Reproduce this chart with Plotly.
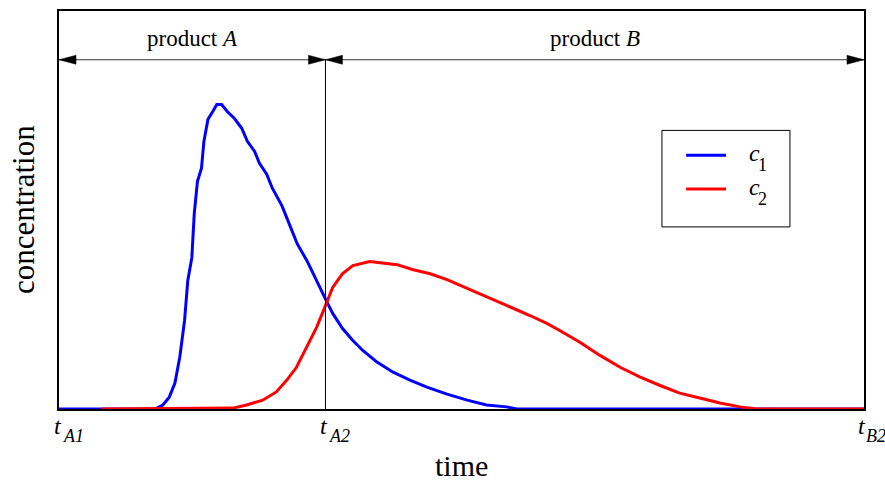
import plotly.graph_objects as go

# time axis: t_A1 = 0, t_A2 = switch-over point, t_B2 = 100
T_A1 = 0.0
T_A2 = 33.1
T_B2 = 100.0

# concentration of product A (c1)
c1_time = [0.0, 11.9, 12.9, 13.7, 14.4, 15.0, 15.6, 16.0, 16.5, 16.8, 17.2, 17.7,
           18.0, 18.5, 19.1, 19.6, 20.2, 20.9, 21.8, 22.7, 23.4, 24.3, 24.9, 25.8,
           26.5, 27.7, 28.6, 29.6, 30.8, 31.8, 32.6, 33.2, 34.0, 35.2, 36.5, 37.7,
           39.5, 41.5, 43.6, 45.7, 48.2, 50.7, 53.1, 55.6, 56.9, 100.0]
c1_value = [0.0, 0.0, 0.013, 0.039, 0.085, 0.170, 0.291, 0.422, 0.497, 0.641, 0.748, 0.791,
            0.879, 0.951, 0.977, 1.0, 1.0, 0.977, 0.954, 0.922, 0.879, 0.846, 0.807, 0.771,
            0.725, 0.667, 0.608, 0.542, 0.487, 0.431, 0.389, 0.356, 0.314, 0.265, 0.225, 0.193,
            0.154, 0.121, 0.095, 0.072, 0.049, 0.029, 0.013, 0.007, 0.0, 0.0]

# concentration of product B (c2)
c2_time = [5.3, 21.6, 23.3, 25.3, 27.0, 28.3, 29.5, 30.8, 32.0, 33.0, 34.0, 35.2,
           36.5, 38.6, 40.1, 42.0, 43.9, 46.1, 48.2, 50.2, 52.3, 54.4, 56.4, 58.5,
           60.6, 62.2, 64.7, 67.2, 69.7, 72.2, 74.6, 77.1, 79.6, 82.1, 84.6, 86.7, 100.0]
c2_value = [0.0, 0.003, 0.013, 0.029, 0.056, 0.095, 0.137, 0.203, 0.268, 0.333, 0.399, 0.444,
            0.471, 0.484, 0.480, 0.474, 0.458, 0.444, 0.425, 0.402, 0.379, 0.356, 0.333, 0.307,
            0.281, 0.258, 0.219, 0.176, 0.137, 0.105, 0.078, 0.052, 0.036, 0.020, 0.007, 0.0, 0.0]

tick_vals = [T_A1, T_A2, T_B2]
tick_subs = ["A1", "A2", "B2"]
section_labels = ["product <i>A</i>", "product <i>B</i>"]

SERIF = "Liberation Serif"
BLUE = "#0000FF"
RED = "#FF0000"

fig = go.Figure()
fig.add_trace(go.Scatter(x=c1_time, y=c1_value, mode="lines", name="c1",
                         line=dict(color=BLUE, width=3), showlegend=False))
fig.add_trace(go.Scatter(x=c2_time, y=c2_value, mode="lines", name="c2",
                         line=dict(color=RED, width=3), showlegend=False))

ARROW_Y = 0.8775  # paper height of the dimension line

shapes = []
# dimension line across the top
shapes.append(dict(type="line", xref="x", yref="paper", x0=T_A1, x1=T_B2,
                   y0=ARROW_Y, y1=ARROW_Y, line=dict(color="#333333", width=1.2)))
# switch-over marker
shapes.append(dict(type="line", xref="x", yref="paper", x0=T_A2, x1=T_A2,
                   y0=0, y1=ARROW_Y, line=dict(color="black", width=1)))

# arrow heads (tip at the anchor)
left_head = "M0,0 L17,4.5 L17,-4.5 Z"
right_head = "M0,0 L-17,4.5 L-17,-4.5 Z"
for xa, path in [(T_A1, left_head), (T_A2, right_head), (T_A2, left_head), (T_B2, right_head)]:
    shapes.append(dict(type="path", xref="x", yref="paper",
                       xsizemode="pixel", ysizemode="pixel",
                       xanchor=xa, yanchor=ARROW_Y, path=path,
                       fillcolor="black", line=dict(color="black", width=0.5)))

# legend box and sample lines
shapes.append(dict(type="rect", xref="paper", yref="paper", x0=0.749, x1=0.908,
                   y0=0.4575, y1=0.70, line=dict(color="black", width=1),
                   fillcolor="white", layer="above"))
shapes.append(dict(type="line", xref="paper", yref="paper", x0=0.779, x1=0.8286,
                   y0=0.6375, y1=0.6375, line=dict(color=BLUE, width=3)))
shapes.append(dict(type="line", xref="paper", yref="paper", x0=0.779, x1=0.8286,
                   y0=0.5525, y1=0.5525, line=dict(color=RED, width=3)))

annotations = []
# section labels above the dimension line
for (xa, xb), label in zip([(T_A1, T_A2), (T_A2, T_B2)], section_labels):
    annotations.append(dict(x=(xa + xb) / 2, y=0.93, xref="x", yref="paper",
                            text=label, showarrow=False, xanchor="center", yanchor="middle",
                            font=dict(family=SERIF, size=23, color="black")))

# tick labels t_A1, t_A2, t_B2 (the last one nudged left to stay inside the page)
tick_shift = [(-1, 2), (-1, 2), (-2, 0)]
for xv, sub, (ts, ss) in zip(tick_vals, tick_subs, tick_shift):
    annotations.append(dict(x=xv, y=0, xref="x", yref="paper", text="<i>t</i>",
                            showarrow=False, xanchor="center", yanchor="top",
                            xshift=ts, yshift=-2,
                            font=dict(family=SERIF, size=24, color="black")))
    annotations.append(dict(x=xv, y=0, xref="x", yref="paper", text="<i>" + sub + "</i>",
                            showarrow=False, xanchor="left", yanchor="top",
                            xshift=ss, yshift=-15,
                            font=dict(family=SERIF, size=18, color="black")))

# legend entries
for yv, sub in [(0.6375, "1"), (0.5525, "2")]:
    annotations.append(dict(x=0.855, y=yv, xref="paper", yref="paper", text="<i>c</i>",
                            showarrow=False, xanchor="left", yanchor="middle", yshift=2,
                            font=dict(family=SERIF, size=24, color="black")))
    annotations.append(dict(x=0.8655, y=yv, xref="paper", yref="paper", text=sub,
                            showarrow=False, xanchor="left", yanchor="middle", yshift=-10,
                            font=dict(family=SERIF, size=18, color="black")))

# axis titles
annotations.append(dict(x=0.5, y=-0.1425, xref="paper", yref="paper", text="time",
                        showarrow=False, xanchor="center", yanchor="middle",
                        font=dict(family=SERIF, size=30, color="black")))
annotations.append(dict(x=-0.0447, y=0.5, xref="paper", yref="paper", text="concentration",
                        showarrow=False, xanchor="center", yanchor="middle", textangle=-90,
                        font=dict(family=SERIF, size=31, color="black")))

fig.update_layout(
    width=885, height=483,
    margin=dict(l=59, r=21, t=9, b=74),
    paper_bgcolor="white", plot_bgcolor="white",
    shapes=shapes, annotations=annotations,
    font=dict(family=SERIF, color="black"),
)
fig.update_xaxes(range=[T_A1, T_B2], showgrid=False, zeroline=False,
                 showticklabels=False, ticks="", showline=True, mirror=True,
                 linecolor="black", linewidth=1.5)
fig.update_yaxes(range=[0, 1.307], showgrid=False, zeroline=False,
                 showticklabels=False, ticks="", showline=True, mirror=True,
                 linecolor="black", linewidth=1.5)

fig.write_html("out.html")
